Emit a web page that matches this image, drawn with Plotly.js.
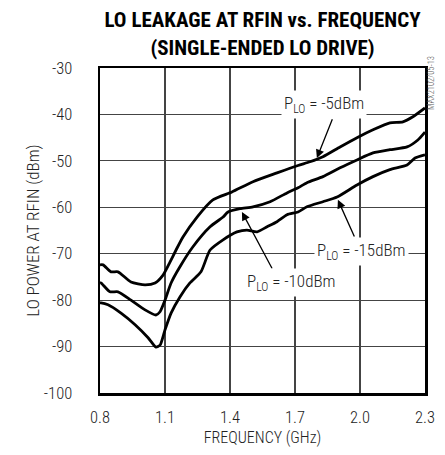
<!DOCTYPE html>
<html>
<head>
<meta charset="utf-8">
<script src="https://cdn.plot.ly/plotly-3.0.1.min.js"></script>
<style>html,body{margin:0;padding:0;background:#fff;}#chart{width:445px;height:455px;}</style>
</head>
<body>
<div id="chart"></div>
<script>
// Frequency (GHz) and LO leakage (dBm)
const freq5 = [0.80, 0.814, 0.851, 0.883, 0.943, 1.008, 1.054, 1.091, 1.123, 1.151, 1.183, 1.248, 1.321, 1.409, 1.506, 1.617, 1.714, 1.769, 1.829, 1.908, 1.986, 2.060, 2.138, 2.198, 2.244, 2.300];
const pwr5  = [-72.4, -72.4, -73.9, -73.9, -76.1, -76.7, -76.3, -74.6, -71.8, -69.2, -66.4, -62.1, -58.4, -56.7, -54.5, -52.6, -51.0, -50.2, -49.1, -47.0, -45.0, -43.3, -41.8, -41.6, -40.5, -38.6];

const freq10 = [0.80, 0.805, 0.846, 0.883, 0.943, 1.008, 1.058, 1.077, 1.100, 1.128, 1.169, 1.229, 1.308, 1.368, 1.391, 1.446, 1.506, 1.585, 1.663, 1.714, 1.755, 1.829, 1.908, 1.986, 2.060, 2.138, 2.217, 2.267, 2.300];
const pwr10  = [-76.3, -76.3, -78.2, -78.2, -80.0, -82.1, -83.2, -82.5, -80.0, -76.3, -72.8, -68.5, -64.2, -62.1, -61.0, -60.3, -59.9, -58.8, -56.9, -55.8, -54.7, -53.4, -51.5, -49.8, -48.3, -47.6, -47.0, -45.5, -43.8];

const freq15 = [0.80, 0.805, 0.837, 0.897, 0.962, 1.022, 1.058, 1.077, 1.100, 1.128, 1.169, 1.215, 1.266, 1.308, 1.368, 1.432, 1.478, 1.525, 1.571, 1.617, 1.663, 1.714, 1.755, 1.829, 1.894, 1.986, 2.060, 2.138, 2.217, 2.254, 2.300];
const pwr15  = [-80.6, -80.6, -81.0, -82.8, -85.3, -88.1, -90.1, -89.7, -86.4, -82.8, -79.3, -76.3, -73.9, -69.2, -67.0, -65.3, -64.9, -65.3, -64.2, -63.1, -61.6, -61.0, -59.9, -58.8, -57.8, -55.2, -53.4, -51.9, -50.9, -49.4, -48.7];

const xTicks = [0.8, 1.1, 1.4, 1.7, 2.0, 2.3];
const xTickText = ['0.8', '1.1', '1.4', '1.7', '2.0', '2.3'];
const yTicks = [-100, -90, -80, -70, -60, -50, -40, -30];
const yTickText = ['-100', '-90', '-80', '-70', '-60', '-50', '-40', '-30'];

const FONT = '"Roboto Condensed", "Liberation Sans Narrow", "Arial Narrow", sans-serif';

const lineStyle = {color: '#000', width: 2.8, shape: 'spline', smoothing: 0.6};
const traces = [
  {x: freq5, y: pwr5, mode: 'lines', line: lineStyle, hoverinfo: 'skip'},
  {x: freq10, y: pwr10, mode: 'lines', line: lineStyle, hoverinfo: 'skip'},
  {x: freq15, y: pwr15, mode: 'lines', line: lineStyle, hoverinfo: 'skip'}
];

function arrow(x, y, ax, ay) {
  return {x: x, y: y, ax: ax, ay: ay, xref: 'x', yref: 'y', axref: 'x', ayref: 'y',
    text: '', showarrow: true, arrowhead: 2, arrowsize: 1.3, arrowwidth: 1.3, arrowcolor: '#000', standoff: 0};
}
function label(x, y, t) {
  return {x: x, y: y, xref: 'x', yref: 'y', text: t, showarrow: false, bgcolor: '#fff',
    borderpad: 2, font: {family: FONT, size: 17, color: '#222', weight: 300}};
}

const layout = {
  width: 445, height: 455,
  margin: {l: 100, r: 20, t: 68, b: 62},
  paper_bgcolor: '#fff', plot_bgcolor: '#fff',
  showlegend: false,
  font: {family: FONT, color: '#222', size: 16, weight: 300},
  title: {text: '<b>LO LEAKAGE AT RFIN vs. FREQUENCY<br>(SINGLE-ENDED LO DRIVE)</b>',
    font: {family: FONT, size: 21, color: '#000'}, x: 0.59, xanchor: 'center', y: 0.94, yanchor: 'top'},
  xaxis: {
    range: [0.8, 2.3], tickvals: xTicks, ticktext: xTickText, ticks: '', ticklabelstandoff: 8,
    showgrid: true, gridcolor: '#444', gridwidth: 1.1, zeroline: false,
    showline: true, linecolor: '#000', linewidth: 2.5, mirror: true,
    title: {text: 'FREQUENCY (GHz)', font: {family: FONT, size: 16, weight: 300}, standoff: 6},
    tickfont: {family: FONT, size: 16.5, weight: 300}
  },
  yaxis: {
    range: [-100, -30], tickvals: yTicks, ticktext: yTickText, ticks: '', ticklabelstandoff: 22,
    showgrid: true, gridcolor: '#444', gridwidth: 1.1, zeroline: false,
    showline: true, linecolor: '#000', linewidth: 2.5, mirror: true,
    title: {text: 'LO POWER AT RFIN (dBm)', font: {family: FONT, size: 17, weight: 300}, standoff: 0},
    tickfont: {family: FONT, size: 16.5, weight: 300}
  },
  annotations: [
    arrow(1.801, -49.4, 1.875, -40.7),
    arrow(1.898, -58.4, 1.977, -66.6),
    arrow(1.455, -61.0, 1.598, -73.5),
    label(1.834, -37.9, 'P<sub>LO</sub> = -5dBm'),
    label(2.009, -69.6, 'P<sub>LO</sub> = -15dBm'),
    label(1.686, -76.3, 'P<sub>LO</sub> = -10dBm'),
    {x: (438 - 100) / 325, y: (393 - 54) / 325, xref: 'paper', yref: 'paper', text: 'MAX2102/05-13',
      showarrow: false, textangle: -90, font: {family: FONT, size: 8.5, color: '#555'}}
  ]
};

Plotly.newPlot('chart', traces, layout, {staticPlot: true, displayModeBar: false});
</script>
</body>
</html>
